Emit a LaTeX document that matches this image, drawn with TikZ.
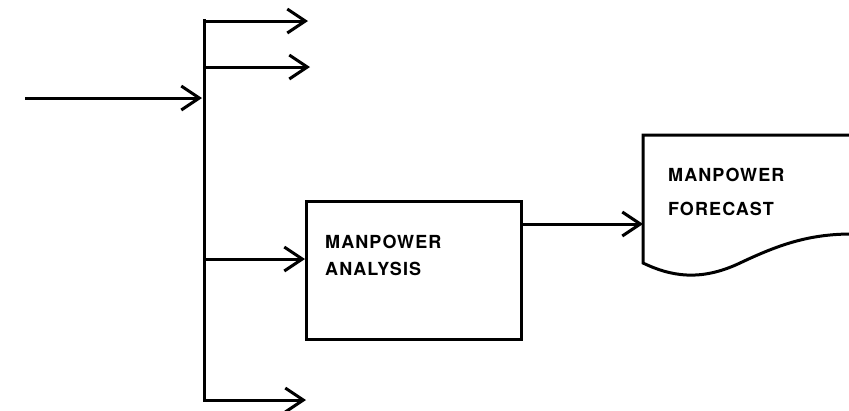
\documentclass[tikz,border=0pt]{standalone}
\usepackage{fontspec}
\setmainfont{TeX Gyre Heros}
\usetikzlibrary{arrows.meta}
\begin{document}
\begin{tikzpicture}[x=1pt,y=-1pt,
  line/.style={line width=3pt},
  arr/.style={line width=3pt,-{Straight Barb[length=18pt,width=24pt,line width=3pt]}},
  label/.style={inner sep=0pt,anchor=north west,align=left,
    font=\fontsize{18}{27}\selectfont\bfseries\addfontfeatures{LetterSpace=6}}]
\useasboundingbox (0,0) rectangle (849,410);
% trunk
\coordinate (ttop) at (204,19);
\coordinate (tbot) at (204,402);
\draw[line] (ttop) -- (tbot);
% input
\coordinate (in) at (25,98);
\coordinate (inend) at (202,98);
\draw[arr] (in) -- (inend);
% branches
\coordinate (b1) at (204,21);
\coordinate (e1) at (308,21);
\coordinate (b2) at (204,67);
\coordinate (e2) at (310,67);
\coordinate (b4) at (204,400);
\coordinate (e4) at (306,400);
\draw[arr] (b1) -- (e1);
\draw[arr] (b2) -- (e2);
\draw[arr] (b4) -- (e4);
% analysis box
\node[draw,line width=3pt,minimum width=215pt,minimum height=138pt,anchor=north west,inner sep=0pt] (box) at (305,200) {};
\node[label] (boxtext) at (325,235) {MANPOWER\\ANALYSIS};
\coordinate (b3) at (204,259);
\draw[arr] (b3) -- (b3 -| box.west);
% document
\coordinate (dtl) at (643,135);
\coordinate (dtr) at (852,135);
\coordinate (dbl) at (643,263);
\coordinate (dbr) at (852,234);
\draw[line,line join=miter] (dtr) -- (dtl) -- (dbl)
  .. controls (670,276) and (700,282) .. (740,263)
  .. controls (780,244) and (810,234) .. (dbr);
\node[label,font=\fontsize{18}{34}\selectfont\bfseries\addfontfeatures{LetterSpace=6}] (doctext) at (668,168) {MANPOWER\\FORECAST};
\coordinate (o1) at (box.east |- 0,224);
\coordinate (o2) at (643,224);
\draw[arr] (o1) -- (o2);
\end{tikzpicture}
\end{document}
